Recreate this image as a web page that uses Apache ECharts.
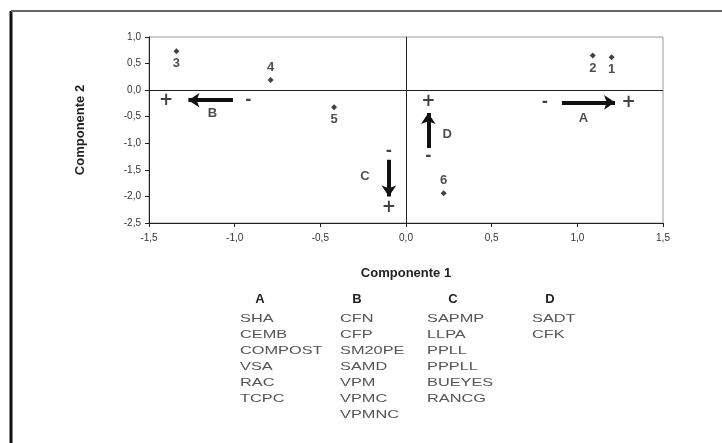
<!DOCTYPE html>
<html>
<head>
<meta charset="utf-8">
<script src="https://cdn.jsdelivr.net/npm/echarts@6/dist/echarts.min.js"></script>
<style>
html,body{margin:0;padding:0;background:#fff;}
#chart{width:722px;height:443px;}
</style>
</head>
<body>
<div id="chart"></div>
<script>
// numbered points (scores)
var pointNames=['1','2','3','4','5','6'];
var pointX=[1.20,1.09,-1.34,-0.79,-0.42,0.22];
var pointY=[0.62,0.65,0.73,0.19,-0.32,-1.94];
var pointLabelPos=['bottom','bottom','bottom','top','bottom','top'];

// gradient arrows A-D: tail, head, "-" end, "+" end, letter
var arrowNames=['A','B','C','D'];
var arrowFrom=[[0.91,-0.23],[-1.01,-0.19],[-0.10,-1.31],[0.13,-1.09]];
var arrowTo=[[1.22,-0.23],[-1.27,-0.19],[-0.10,-2.00],[0.13,-0.43]];
var minusPos=[[0.81,-0.23],[-0.92,-0.19],[-0.10,-1.15],[0.13,-1.25]];
var plusPos=[[1.30,-0.23],[-1.40,-0.19],[-0.10,-2.21],[0.13,-0.21]];
var letterPos=[[1.035,-0.54],[-1.13,-0.44],[-0.24,-1.63],[0.24,-0.84]];

// variable groups under the chart
var groupA=['SHA','CEMB','COMPOST','VSA','RAC','TCPC'];
var groupB=['CFN','CFP','SM20PE','SAMD','VPM','VPMC','VPMNC'];
var groupC=['SAPMP','LLPA','PPLL','PPPLL','BUEYES','RANCG'];
var groupD=['SADT','CFK'];

var myChart=echarts.init(document.getElementById('chart'));

function commaLabel(v){
	return v.toFixed(1).replace('.',',');
}

var points=pointX.map(function(x,i){
	return {value:[x,pointY[i]],name:pointNames[i],label:{position:pointLabelPos[i]}};
});
var arrows=arrowFrom.map(function(p,i){
	return {coords:[p,arrowTo[i]]};
});
var minusSigns=minusPos.map(function(p){return {value:p,name:'-'};});
var plusSigns=plusPos.map(function(p){return {value:p,name:'+'};});
var letters=letterPos.map(function(p,i){
	return {value:p,name:arrowNames[i]};
});

// legend columns as graphic text
var columns=[groupA,groupB,groupC,groupD];
var colX=[240,340,427,532];
var headX=[260,357,453,550];
var graphics=[
	{type:'line',shape:{x1:11,y1:11,x2:11,y2:443},style:{stroke:'#111',lineWidth:3}},
	{type:'line',shape:{x1:11,y1:11,x2:722,y2:11},style:{stroke:'#666',lineWidth:2}}
];
columns.forEach(function(col,c){
	graphics.push({type:'text',x:headX[c],y:299,style:{text:arrowNames[c],font:'bold 13px "Liberation Sans", Arial',fill:'#222',textAlign:'center',textVerticalAlign:'middle'}});
	col.forEach(function(t,r){
		graphics.push({type:'text',x:colX[c],y:319+16*r,scaleX:1.42,style:{text:t,font:'11.5px "Liberation Sans", Arial',fill:'#555',textVerticalAlign:'middle'}});
	});
});

var option={
	animation:false,
	backgroundColor:'#fff',
	grid:{left:149,right:59,top:37,bottom:220,show:true,borderColor:'#999',borderWidth:1},
	xAxis:{
		type:'value',min:-1.5,max:1.5,interval:0.5,
		name:'Componente 1',nameLocation:'middle',nameGap:44,
		nameTextStyle:{fontFamily:'Liberation Sans',fontWeight:'bold',fontSize:13,color:'#222'},
		axisLine:{onZero:false,lineStyle:{color:'#222',width:1}},
		axisTick:{show:true,length:4,lineStyle:{color:'#222'}},
		splitLine:{show:false},
		axisLabel:{formatter:commaLabel,fontFamily:'Liberation Sans',fontSize:10,color:'#333',margin:10}
	},
	yAxis:{
		type:'value',min:-2.5,max:1.0,interval:0.5,
		name:'Componente 2',nameLocation:'middle',nameGap:62,
		nameTextStyle:{fontFamily:'Liberation Sans',fontWeight:'bold',fontSize:13,color:'#222'},
		axisLine:{onZero:false,lineStyle:{color:'#222',width:1}},
		axisTick:{show:true,length:4,lineStyle:{color:'#222'}},
		splitLine:{show:false},
		axisLabel:{formatter:commaLabel,fontFamily:'Liberation Sans',fontSize:10,color:'#333',margin:8}
	},
	graphic:graphics,
	series:[
		{
			type:'scatter',
			data:points,
			symbol:'diamond',symbolSize:6,
			itemStyle:{color:'#111'},
			label:{show:true,formatter:'{b}',distance:3,fontFamily:'Liberation Sans',fontWeight:'bold',fontSize:13,color:'#222'},
			markLine:{
				silent:true,symbol:'none',
				label:{show:false},
				lineStyle:{color:'#222',type:'solid',width:1},
				data:[{xAxis:0},{yAxis:0}]
			}
		},
		{
			type:'lines',
			coordinateSystem:'cartesian2d',
			data:arrows,
			symbol:['none','arrow'],symbolSize:11,
			lineStyle:{color:'#111',width:4,opacity:1,curveness:0}
		},
		{
			type:'scatter',
			data:plusSigns,
			symbolSize:0,
			label:{show:true,position:'inside',formatter:'{b}',fontFamily:'DejaVu Sans',fontWeight:'bold',fontSize:17,color:'#111'}
		},
		{
			type:'scatter',
			data:minusSigns,
			symbolSize:0,
			label:{show:true,position:'inside',formatter:'{b}',fontFamily:'DejaVu Sans',fontWeight:'bold',fontSize:15,color:'#111'}
		},
		{
			type:'scatter',
			data:letters,
			symbolSize:0,
			label:{show:true,position:'inside',formatter:'{b}',fontFamily:'Liberation Sans',fontWeight:'bold',fontSize:13,color:'#222'}
		}
	]
};
myChart.setOption(option);
</script>
</body>
</html>
